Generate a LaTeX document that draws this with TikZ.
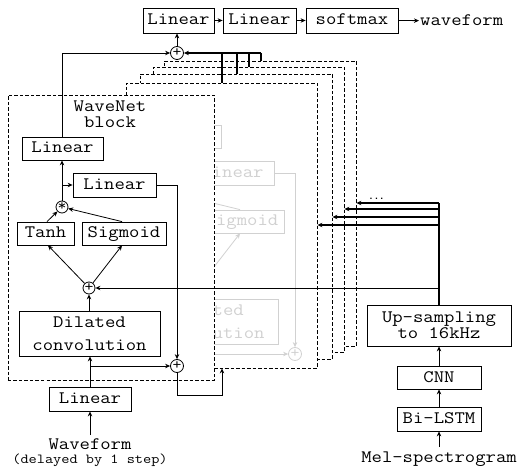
\documentclass[tikz,border=0pt]{standalone}
\usepackage{fontspec}
\setmainfont{Liberation Mono}
\setmonofont[FakeStretch=1.15]{Latin Modern Mono}
\usetikzlibrary{arrows.meta,calc}
\definecolor{ghostc}{gray}{0.82}
\newcommand\monofs{\ttfamily\fontsize{17.5bp}{21bp}\selectfont}
\tikzset{
  boxbase/.style={draw, line width=0.8bp, inner sep=0pt, font=\monofs, align=center},
  box/.style={boxbase, text height=11bp, text depth=2bp, minimum height=23bp},
  lbl/.style={inner sep=0pt, font=\monofs},
  circ/.style={draw, circle, line width=0.8bp, minimum size=12bp, inner sep=0pt,
    font=\ttfamily\fontsize{15bp}{15bp}\selectfont},
  arr/.style={line width=0.8bp, -{Stealth[length=5bp,width=4.5bp]}},
  arrT/.style={line width=1.2bp, -{Stealth[length=5bp,width=4.5bp]}},
  thk/.style={line width=1.2bp},
  blk/.style={draw, dash pattern=on 3.5bp off 2bp, line width=0.8bp, fill=white,
    inner sep=0pt},
}
% #1 prefix, #2 top Linear text, #3 product text, #4 Tanh text, #5 middle sum text
\newcommand\wnbody[5]{%
  \node[box, minimum width=81bp] (#1linA) at (62.5,148.5) {#2};
  \node[box, minimum width=83bp, minimum height=24bp] (#1linB) at (114.5,185) {Linear};
  \node[circ] (#1mul) at (62,207) {#3};
  \node[box, minimum width=57bp] (#1tanh) at (45.5,233.5) {#4};
  \node[box, minimum width=84bp] (#1sig) at (124,233.5) {Sigmoid};
  \node[circ] (#1sMid) at (89,288) {#5};
  \node[boxbase, minimum width=141bp, minimum height=45bp,
    font=\ttfamily\fontsize{17.5bp}{23bp}\selectfont] (#1dil) at (89.5,333.5) {Dilated\\convolution};
  \node[circ, minimum size=13bp] (#1sBot) at (177,366) {+};
  \draw[arr] (#1mul.north) -- (#1mul.north |- #1linA.south);
  \coordinate (#1brA) at (#1mul.north |- #1linB.west);
  \draw[arr] (#1brA) -- (#1linB.west);
  \draw[arr] (#1linB.east) -| (#1sBot.north);
  \draw[arr] ([xshift=1.5bp]#1tanh.north) -- (#1mul);
  \draw[arr] ([xshift=-2bp]#1sig.north) -- (#1mul);
  \draw[arr] (#1sMid) -- ([xshift=2.5bp]#1tanh.south);
  \draw[arr] (#1sMid) -- ([xshift=-2bp]#1sig.south);
  \draw[arr] (#1sMid.south |- #1dil.north) -- (#1sMid.south);
  \coordinate (#1br) at (90,366);
  \draw[arr] (#1br) -- (#1sBot.west);
}
\begin{document}
\begin{tikzpicture}[x=1bp, y=-1bp]
\useasboundingbox (0,0) rectangle (520,468);

% stacked blocks (back to front)
\node[blk, minimum width=192bp, minimum height=285bp] (b5) at (260,203.5) {};
\node[blk, minimum width=191bp, minimum height=285bp] (b4) at (248.5,209.5) {};
\node[blk, minimum width=192bp, minimum height=285bp] (b3) at (236,216.5) {};
\node[blk, minimum width=191bp, minimum height=285bp] (b2) at (221.5,225.5) {};

% faded copy of the block content
\begin{scope}
  \clip (b2.south west) rectangle (b2.north east);
  \begin{scope}[shift={(118,-12)}, color=ghostc]
    \wnbody{g}{}{}{}{}
  \end{scope}
\end{scope}

% front block
\node[blk, minimum width=206bp, minimum height=285bp] (b1) at (111,237.5) {};
\node[lbl, align=center, font=\ttfamily\fontsize{17.5bp}{16bp}\selectfont] (title) at (110,114.5) {WaveNet\\block};
\wnbody{a}{Linear}{*}{Tanh}{+}

% top row
\node[box, minimum width=71bp, minimum height=25bp] (lin1) at (178.5,20.5) {Linear};
\node[box, minimum width=73bp, minimum height=25bp] (lin2) at (259.5,20.5) {Linear};
\node[box, minimum width=92bp, minimum height=25bp] (soft) at (352,20.5) {softmax};
\node[lbl, inner sep=1bp, anchor=base west] (wf) at (419,26) {waveform};
\node[circ, minimum size=13bp] (sTop) at (177,53) {+};

% input
\node[box, minimum width=82bp, minimum height=24bp] (linIn) at (90,399) {Linear};
\node[lbl, anchor=base] (wav) at (90,449) {Waveform};
\node[lbl, anchor=base, font=\ttfamily\fontsize{13.8bp}{15bp}\selectfont] (del) at (90,463) {(delayed by 1 step)};

% conditioning column
\node[boxbase, minimum width=144bp, minimum height=41bp,
  font=\ttfamily\fontsize{17.5bp}{16bp}\selectfont] (up) at (439,325.5) {Up-sampling\\to 16kHz};
\node[box, minimum width=84bp] (cnn) at (439,377.5) {CNN};
\node[box, minimum width=84bp, minimum height=24bp] (bil) at (439,419) {Bi-LSTM};
\node[lbl, anchor=base] (mel) at (439,462) {Mel-spectrogram};
\node[inner sep=0pt, anchor=base, font=\fontsize{9bp}{9bp}\selectfont\bfseries] (dots) at (376.5,200) {...};

% connectors: top row
\draw[arr] (sTop.north) -- (sTop.north |- lin1.south);
\draw[arr] (lin1.east) -- (lin2.west);
\draw[arr] (lin2.east) -- (soft.west);
\draw[arr] (soft.east) -- (wf.west);
\draw[arr] (alinA.north) |- (sTop.west);

% skip connections from stacked blocks into top sum
\coordinate (t5) at (261,53);
\coordinate (t4) at (249,53);
\coordinate (t3) at (237,53);
\coordinate (t2) at (222,53);
\draw[arrT] (t5) -- (sTop.east);
\draw[thk] (t5) -- (t5 |- b5.north);
\draw[thk] (t4) -- (t4 |- b4.north);
\draw[thk] (t3) -- (t3 |- b3.north);
\draw[thk] (t2) -- (t2 |- b2.north);

% input path
\draw[arr] ([yshift=3bp]wav.north) -- (linIn.south);
\draw[arr] (linIn.north) -- (linIn.north |- adil.south);

% residual output into next block
\coordinate (oc) at (222,395);
\draw[arr] (asBot.south) |- (oc) -- (oc |- b2.south);

% conditioning
\coordinate (c5) at (439,203);
\coordinate (c4) at (439,209);
\coordinate (c3) at (439,217);
\coordinate (c2) at (439,225);
\draw[thk] (up.north) -- (c5);
\draw[arrT] (c5) -- (c5 -| b5.east);
\draw[arrT] (c4) -- (c4 -| b4.east);
\draw[arrT] (c3) -- (c3 -| b3.east);
\draw[arrT] (c2) -- (c2 -| b2.east);
\draw[arr] (up.north |- asMid) -- (asMid.east);

\draw[arr] ([yshift=4bp]mel.north) -- (bil.south);
\draw[arr] (bil.north) -- (cnn.south);
\draw[arr] (cnn.north) -- (up.south);
\end{tikzpicture}
\end{document}
